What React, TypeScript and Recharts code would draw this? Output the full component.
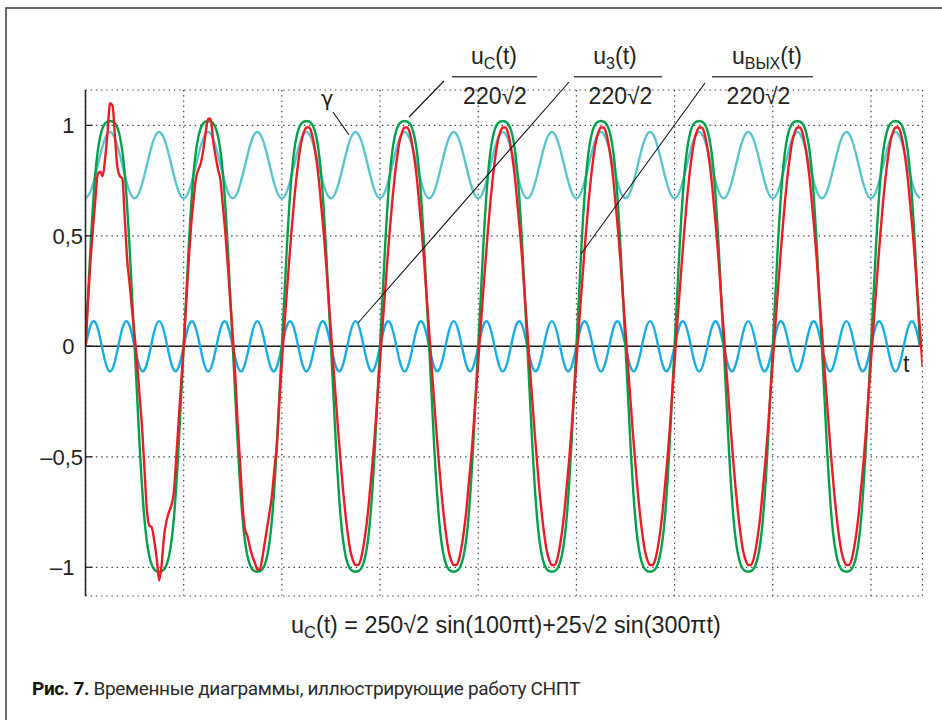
import React from 'react';
import { LineChart, Line, XAxis, YAxis, CartesianGrid, ReferenceLine } from 'recharts';

// sampling of the traces
const STEP_MS = 1; // uC, u3 and gamma
const RED_STEP_MS = 0.5; // uвых (needs the finer start transient)

const timeDomain: [number, number] = [0, 170.5];
const gridTimes = [20, 40, 60, 80, 100, 120, 140, 160];
const yTicks = [1, 0.5, 0, -0.5, -1];
const yTickLabels = ['1', '0,5', '0', '–0,5', '–1'];

// uC(t) / 220√2, one row per 20 ms period
const supply = [
  0, 0.44, 0.78, 0.95, 1.01, 1.02, 1.01, 0.95, 0.78, 0.44, 0, -0.44, -0.78, -0.95, -1.01, -1.02, -1.01, -0.95, -0.78, -0.44,
  0, 0.44, 0.78, 0.95, 1.01, 1.02, 1.01, 0.95, 0.78, 0.44, 0, -0.44, -0.78, -0.95, -1.01, -1.02, -1.01, -0.95, -0.78, -0.44,
  0, 0.44, 0.78, 0.95, 1.01, 1.02, 1.01, 0.95, 0.78, 0.44, 0, -0.44, -0.78, -0.95, -1.01, -1.02, -1.01, -0.95, -0.78, -0.44,
  0, 0.44, 0.78, 0.95, 1.01, 1.02, 1.01, 0.95, 0.78, 0.44, 0, -0.44, -0.78, -0.95, -1.01, -1.02, -1.01, -0.95, -0.78, -0.44,
  0, 0.44, 0.78, 0.95, 1.01, 1.02, 1.01, 0.95, 0.78, 0.44, 0, -0.44, -0.78, -0.95, -1.01, -1.02, -1.01, -0.95, -0.78, -0.44,
  0, 0.44, 0.78, 0.95, 1.01, 1.02, 1.01, 0.95, 0.78, 0.44, 0, -0.44, -0.78, -0.95, -1.01, -1.02, -1.01, -0.95, -0.78, -0.44,
  0, 0.44, 0.78, 0.95, 1.01, 1.02, 1.01, 0.95, 0.78, 0.44, 0, -0.44, -0.78, -0.95, -1.01, -1.02, -1.01, -0.95, -0.78, -0.44,
  0, 0.44, 0.78, 0.95, 1.01, 1.02, 1.01, 0.95, 0.78, 0.44, 0, -0.44, -0.78, -0.95, -1.01, -1.02, -1.01, -0.95, -0.78, -0.44,
  0, 0.44, 0.78, 0.95, 1.01, 1.02, 1.01, 0.95, 0.78, 0.44, 0,
];

// u3(t) / 220√2
const compensator = [
  0, 0.092, 0.108, 0.035, -0.067, -0.114, -0.067, 0.035, 0.108, 0.092, 0, -0.092, -0.108, -0.035, 0.067, 0.114, 0.067, -0.035, -0.108, -0.092,
  0, 0.092, 0.108, 0.035, -0.067, -0.114, -0.067, 0.035, 0.108, 0.092, 0, -0.092, -0.108, -0.035, 0.067, 0.114, 0.067, -0.035, -0.108, -0.092,
  0, 0.092, 0.108, 0.035, -0.067, -0.114, -0.067, 0.035, 0.108, 0.092, 0, -0.092, -0.108, -0.035, 0.067, 0.114, 0.067, -0.035, -0.108, -0.092,
  0, 0.092, 0.108, 0.035, -0.067, -0.114, -0.067, 0.035, 0.108, 0.092, 0, -0.092, -0.108, -0.035, 0.067, 0.114, 0.067, -0.035, -0.108, -0.092,
  0, 0.092, 0.108, 0.035, -0.067, -0.114, -0.067, 0.035, 0.108, 0.092, 0, -0.092, -0.108, -0.035, 0.067, 0.114, 0.067, -0.035, -0.108, -0.092,
  0, 0.092, 0.108, 0.035, -0.067, -0.114, -0.067, 0.035, 0.108, 0.092, 0, -0.092, -0.108, -0.035, 0.067, 0.114, 0.067, -0.035, -0.108, -0.092,
  0, 0.092, 0.108, 0.035, -0.067, -0.114, -0.067, 0.035, 0.108, 0.092, 0, -0.092, -0.108, -0.035, 0.067, 0.114, 0.067, -0.035, -0.108, -0.092,
  0, 0.092, 0.108, 0.035, -0.067, -0.114, -0.067, 0.035, 0.108, 0.092, 0, -0.092, -0.108, -0.035, 0.067, 0.114, 0.067, -0.035, -0.108, -0.092,
  0, 0.092, 0.108, 0.035, -0.067, -0.114, -0.067, 0.035, 0.108, 0.092, 0,
];

// γ
const gamma = [
  0.67, 0.699, 0.774, 0.866, 0.941, 0.97, 0.941, 0.866, 0.774, 0.699, 0.67, 0.699, 0.774, 0.866, 0.941, 0.97, 0.941, 0.866, 0.774, 0.699,
  0.67, 0.699, 0.774, 0.866, 0.941, 0.97, 0.941, 0.866, 0.774, 0.699, 0.67, 0.699, 0.774, 0.866, 0.941, 0.97, 0.941, 0.866, 0.774, 0.699,
  0.67, 0.699, 0.774, 0.866, 0.941, 0.97, 0.941, 0.866, 0.774, 0.699, 0.67, 0.699, 0.774, 0.866, 0.941, 0.97, 0.941, 0.866, 0.774, 0.699,
  0.67, 0.699, 0.774, 0.866, 0.941, 0.97, 0.941, 0.866, 0.774, 0.699, 0.67, 0.699, 0.774, 0.866, 0.941, 0.97, 0.941, 0.866, 0.774, 0.699,
  0.67, 0.699, 0.774, 0.866, 0.941, 0.97, 0.941, 0.866, 0.774, 0.699, 0.67, 0.699, 0.774, 0.866, 0.941, 0.97, 0.941, 0.866, 0.774, 0.699,
  0.67, 0.699, 0.774, 0.866, 0.941, 0.97, 0.941, 0.866, 0.774, 0.699, 0.67, 0.699, 0.774, 0.866, 0.941, 0.97, 0.941, 0.866, 0.774, 0.699,
  0.67, 0.699, 0.774, 0.866, 0.941, 0.97, 0.941, 0.866, 0.774, 0.699, 0.67, 0.699, 0.774, 0.866, 0.941, 0.97, 0.941, 0.866, 0.774, 0.699,
  0.67, 0.699, 0.774, 0.866, 0.941, 0.97, 0.941, 0.866, 0.774, 0.699, 0.67, 0.699, 0.774, 0.866, 0.941, 0.97, 0.941, 0.866, 0.774, 0.699,
  0.67, 0.699, 0.774, 0.866, 0.941, 0.97, 0.941, 0.866, 0.774, 0.699, 0.67,
];

// uвых(t) / 220√2, one row per 10 ms at 0.5 ms steps
const output = [
  // start-up transient, 0..40 ms
  0, 0.2, 0.38, 0.53, 0.66, 0.78, 0.79, 0.77, 0.85, 0.97, 1.1, 1.09, 0.95, 0.81, 0.77, 0.76, 0.58, 0.39, 0.28, 0.16,
  0.05, -0.07, -0.22, -0.36, -0.55, -0.74, -0.81, -0.82, -0.88, -0.96, -1.06, -0.99, -0.86, -0.79, -0.75, -0.72, -0.66, -0.5, -0.33, -0.16,
  0, 0.19, 0.38, 0.54, 0.66, 0.76, 0.8, 0.83, 0.89, 0.97, 1.03, 1.03, 0.93, 0.86, 0.8, 0.75, 0.63, 0.51, 0.36, 0.2,
  0.05, -0.13, -0.35, -0.53, -0.72, -0.83, -0.86, -0.91, -0.95, -0.98, -1.01, -1.01, -0.96, -0.89, -0.82, -0.75, -0.67, -0.55, -0.44, -0.25,
  // steady state
  -0.07, 0.09, 0.24, 0.39, 0.53, 0.66, 0.77, 0.86, 0.93, 0.97, 0.99, 0.99, 0.97, 0.92, 0.85, 0.76, 0.64, 0.52, 0.38, 0.22,
  0.07, -0.09, -0.24, -0.39, -0.53, -0.66, -0.77, -0.86, -0.93, -0.97, -0.99, -0.99, -0.97, -0.92, -0.85, -0.76, -0.64, -0.52, -0.38, -0.22,
  -0.07, 0.09, 0.24, 0.39, 0.53, 0.66, 0.77, 0.86, 0.93, 0.97, 0.99, 0.99, 0.97, 0.92, 0.85, 0.76, 0.64, 0.52, 0.38, 0.22,
  0.07, -0.09, -0.24, -0.39, -0.53, -0.66, -0.77, -0.86, -0.93, -0.97, -0.99, -0.99, -0.97, -0.92, -0.85, -0.76, -0.64, -0.52, -0.38, -0.22,
  -0.07, 0.09, 0.24, 0.39, 0.53, 0.66, 0.77, 0.86, 0.93, 0.97, 0.99, 0.99, 0.97, 0.92, 0.85, 0.76, 0.64, 0.52, 0.38, 0.22,
  0.07, -0.09, -0.24, -0.39, -0.53, -0.66, -0.77, -0.86, -0.93, -0.97, -0.99, -0.99, -0.97, -0.92, -0.85, -0.76, -0.64, -0.52, -0.38, -0.22,
  -0.07, 0.09, 0.24, 0.39, 0.53, 0.66, 0.77, 0.86, 0.93, 0.97, 0.99, 0.99, 0.97, 0.92, 0.85, 0.76, 0.64, 0.52, 0.38, 0.22,
  0.07, -0.09, -0.24, -0.39, -0.53, -0.66, -0.77, -0.86, -0.93, -0.97, -0.99, -0.99, -0.97, -0.92, -0.85, -0.76, -0.64, -0.52, -0.38, -0.22,
  -0.07, 0.09, 0.24, 0.39, 0.53, 0.66, 0.77, 0.86, 0.93, 0.97, 0.99, 0.99, 0.97, 0.92, 0.85, 0.76, 0.64, 0.52, 0.38, 0.22,
  0.07, -0.09, -0.24, -0.39, -0.53, -0.66, -0.77, -0.86, -0.93, -0.97, -0.99, -0.99, -0.97, -0.92, -0.85, -0.76, -0.64, -0.52, -0.38, -0.22,
  -0.07, 0.09, 0.24, 0.39, 0.53, 0.66, 0.77, 0.86, 0.93, 0.97, 0.99, 0.99, 0.97, 0.92, 0.85, 0.76, 0.64, 0.52, 0.38, 0.22,
  0.07, -0.09, -0.24, -0.39, -0.53, -0.66, -0.77, -0.86, -0.93, -0.97, -0.99, -0.99, -0.97, -0.92, -0.85, -0.76, -0.64, -0.52, -0.38, -0.22,
  -0.07, 0.09, 0.24, 0.39, 0.53, 0.66, 0.77, 0.86, 0.93, 0.97, 0.99, 0.99, 0.97, 0.92, 0.85, 0.76, 0.64, 0.52, 0.38, 0.22,
  0.07, -0.09,
];

const rows = supply.map((v, i) => ({
  t: i * STEP_MS,
  supply: v,
  compensator: compensator[i],
  gamma: gamma[i],
}));
const outputRows = output.map((v, i) => ({ t: i * RED_STEP_MS, output: v }));

const INK = '#231f20';
const SANS = '"Liberation Sans", Arial, Helvetica, sans-serif';

function YTick(props: { x?: number; y?: number; payload?: { value: number } }) {
  const x = props.x ?? 0;
  const y = props.y ?? 0;
  const v = props.payload?.value ?? 0;
  const label = yTickLabels[yTicks.indexOf(v)];
  const whole = Number.isInteger(v);
  return (
    <g>
      <line x1={x} x2={x + 7} y1={y} y2={y} stroke={INK} strokeWidth={1.3} />
      <text
        x={x - (whole ? 11 : 2.5)}
        y={y}
        dy="0.36em"
        textAnchor="end"
        fontSize={22}
        fill={INK}
        fontFamily={SANS}
      >
        {label}
      </text>
    </g>
  );
}

const fractions = [
  { sub: 'C', x1: 452, x2: 537, numX: 494, denX: 495 },
  { sub: '3', x1: 574, x2: 662, numX: 615, denX: 620.5 },
  { sub: 'ВЫХ', x1: 712, x2: 813, numX: 767, denX: 758.5 },
];

const leaders = [
  [333, 112, 349, 135],
  [444, 81, 409, 117],
  [569, 82, 358, 323],
  [705, 83, 581, 254],
];

export default function App() {
  return (
    <div style={{ position: 'absolute', left: 0, top: 0, width: 942, height: 720, background: '#fff' }}>
      <LineChart
        width={942}
        height={720}
        data={rows}
        margin={{ top: 90, right: 19.5, bottom: 124, left: 0 }}
      >
        <CartesianGrid stroke="#3c3c3c" strokeWidth={1.2} strokeDasharray="1.4 3.8" />
        <XAxis
          type="number"
          dataKey="t"
          domain={timeDomain}
          ticks={gridTimes}
          allowDataOverflow
          hide
        />
        <YAxis
          type="number"
          width={85.5}
          domain={[-1.13, 1.16]}
          ticks={yTicks}
          allowDataOverflow
          axisLine={{ stroke: INK, strokeWidth: 1.5 }}
          tickLine={false}
          tickSize={0}
          tickMargin={0}
          tick={<YTick />}
        />
        <ReferenceLine y={0} stroke={INK} strokeWidth={1.6} />
        <Line
          type="natural"
          dataKey="compensator"
          stroke="#19ade6"
          strokeWidth={2.4}
          dot={false}
          activeDot={false}
          isAnimationActive={false}
        />
        <Line
          type="natural"
          dataKey="gamma"
          stroke="#5ac4cf"
          strokeWidth={2.4}
          dot={false}
          activeDot={false}
          isAnimationActive={false}
        />
        <Line
          type="natural"
          dataKey="supply"
          stroke="#00a14b"
          strokeWidth={2.4}
          dot={false}
          activeDot={false}
          isAnimationActive={false}
        />
        <Line
          type="monotone"
          data={outputRows}
          dataKey="output"
          stroke="#ec1c24"
          strokeWidth={2.4}
          dot={false}
          activeDot={false}
          isAnimationActive={false}
        />
      </LineChart>

      <svg
        width={942}
        height={720}
        style={{ position: 'absolute', left: 0, top: 0, pointerEvents: 'none' }}
        fontFamily={SANS}
        fill={INK}
      >
        <path d="M6 720 V8 H942" fill="none" stroke="#3a3a3a" strokeWidth={1.5} />

        {fractions.map((f) => (
          <g key={f.sub}>
            <text x={f.numX} y={64} textAnchor="middle" fontSize={23}>
              u
              <tspan fontSize={16} dy={5}>
                {f.sub}
              </tspan>
              <tspan dy={-5}>(t)</tspan>
            </text>
            <line x1={f.x1} x2={f.x2} y1={76.7} y2={76.7} stroke="#4a4a4a" strokeWidth={1.6} />
            <text x={f.denX} y={104} textAnchor="middle" fontSize={23}>
              220√2
            </text>
          </g>
        ))}

        {leaders.map(([x1, y1, x2, y2], i) => (
          <line key={i} x1={x1} y1={y1} x2={x2} y2={y2} stroke="#111" strokeWidth={1.1} />
        ))}

        <text x={321} y={106} fontSize={21} fontFamily='"DejaVu Sans", sans-serif'>
          γ
        </text>
        <text x={903} y={372} fontSize={23}>
          t
        </text>

        <text x={291} y={633} fontSize={23.3}>
          u
          <tspan fontSize={16.5} dy={5}>
            C
          </tspan>
          <tspan dy={-5}>(t) = 250√2 sin(100πt)+25√2 sin(300πt)</tspan>
        </text>

        <text x={32} y={695} fontSize={19} letterSpacing={-0.35} fontFamily="Roboto, sans-serif">
          <tspan fontWeight={700} fill="#111">
            Рис. 7.
          </tspan>
          <tspan fill="#2a2a2a"> Временные диаграммы, иллюстрирующие работу СНПТ</tspan>
        </text>
      </svg>
    </div>
  );
}
